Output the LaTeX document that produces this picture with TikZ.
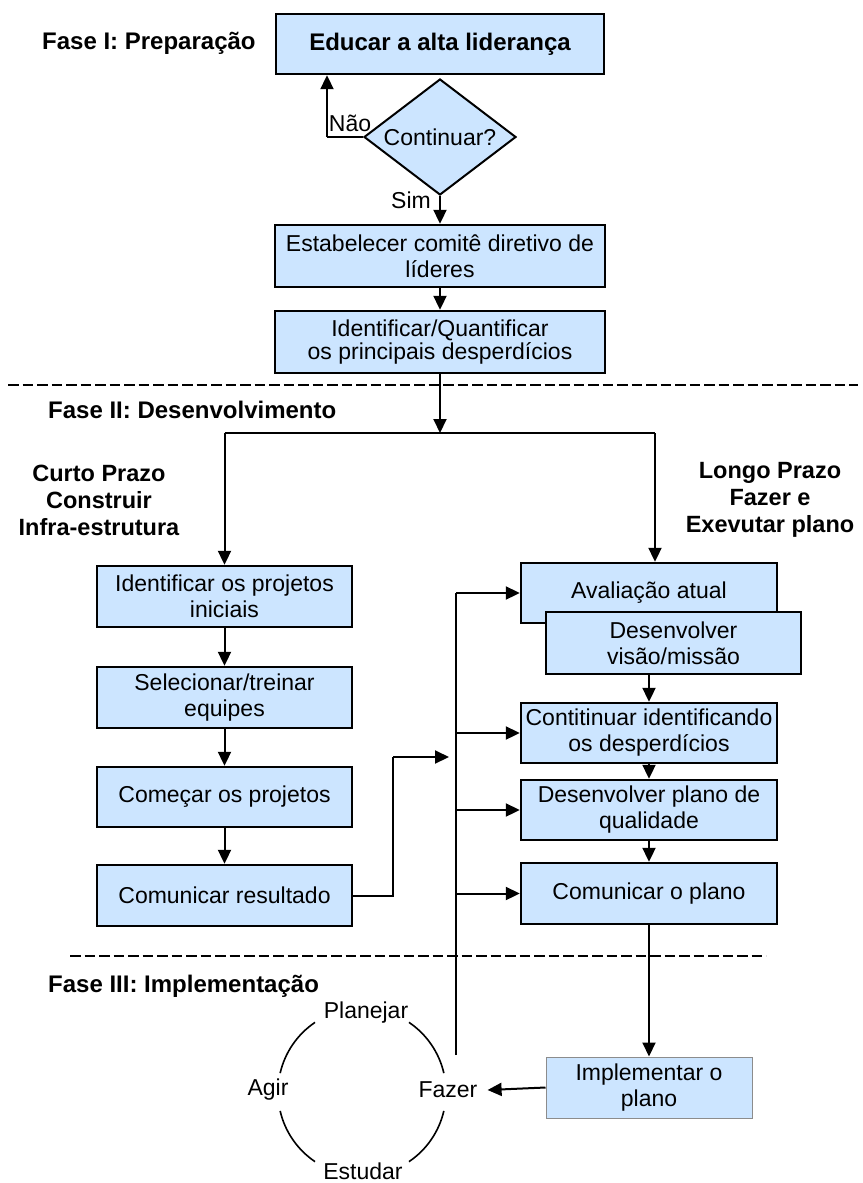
\documentclass[tikz,border=0pt]{standalone}
\usepackage{fontspec}
\setmainfont{Liberation Sans}
\usetikzlibrary{arrows.meta,shapes.geometric}
\definecolor{boxblue}{RGB}{204,229,255}
\begin{document}
\begin{tikzpicture}[x=1pt,y=1pt,
  box/.style={draw=black, line width=2.4pt, fill=boxblue, inner sep=0pt, align=center,
    font=\fontsize{23}{26}\selectfont},
  lbox/.style={box, minimum width=255pt},
  rbox/.style={box, minimum width=256pt},
  arr/.style={line width=2pt, -{Triangle[length=14pt,width=13pt]}},
  ln/.style={line width=2pt},
  thin/.style={line width=1.3pt},
  cyc/.style={line width=1.6pt},
  phase/.style={font=\bfseries\fontsize{24}{27}\selectfont, anchor=west, inner sep=0pt},
  head/.style={font=\bfseries\fontsize{23.5}{27}\selectfont, align=center, inner sep=0pt},
  lbl/.style={font=\fontsize{23}{26}\selectfont, inner sep=0pt},
  sep/.style={line width=2.4pt, dash pattern=on 10.5pt off 4pt}
]
\useasboundingbox (0,0) rectangle (862,-1183);

% ---------- Fase I ----------
\node[phase] (f1) at (42,-43) {Fase I: Preparação};
\node[box, minimum width=328pt, minimum height=60pt, font=\bfseries\fontsize{24}{27}\selectfont]
  (b1) at (440,-44) {Educar a alta liderança};
\node[diamond, draw=black, line width=2pt, fill=boxblue, aspect=1.31, inner sep=0pt,
  minimum width=152pt, minimum height=116pt, font=\fontsize{23}{26}\selectfont]
  (d) at (440,-137) {Continuar?};
\node[lbl] (nao) at (350,-123) {Não};
\node[lbl] (sim) at (411,-200) {Sim};
\node[box, minimum width=330pt, minimum height=62pt] (b2) at (440,-256)
  {Estabelecer comitê diretivo de\\líderes};
\node[box, minimum width=330pt, minimum height=62pt, font=\fontsize{23}{20}\selectfont]
  (b3) at (440,-342) {Identificar/Quantificar\\os principais desperdícios};

\coordinate (naoc) at (327,-137);
\draw[ln] (d.west) -- (naoc);
\draw[arr] (naoc) -- (naoc |- b1.south);
\draw[arr] (d.south) -- (b2.north);
\draw[arr] (b2) -- (b3);

% ---------- separator 1 ----------
\coordinate (s1a) at (8,-385);
\coordinate (s1b) at (858,-385);
\draw[sep] (s1a) -- (s1b);

% ---------- Fase II ----------
\node[phase] (f2) at (48,-410) {Fase II: Desenvolvimento};
\node[head] (cp) at (99,-500) {Curto Prazo\\Construir\\Infra-estrutura};
\node[head] (lp) at (770,-500) {Longo Prazo\\Fazer e\\Exevutar plano};

\node[lbox, minimum height=61pt] (L1) at (224.5,-596.5) {Identificar os projetos\\iniciais};
\node[lbox, minimum height=61pt] (L2) at (224.5,-697.5) {Selecionar/treinar\\equipes};
\node[lbox, minimum height=60pt] (L3) at (224.5,-797) {Começar os projetos};
\node[lbox, minimum height=61pt] (L4) at (224.5,-895.5) {Comunicar resultado};

\node[rbox, minimum height=60pt] (R1) at (649,-593) {Avaliação atual};
\node[box, minimum width=255pt, minimum height=62pt] (R2) at (673.5,-643) {Desenvolver\\visão/missão};
\node[rbox, minimum height=60pt] (R3) at (649,-733) {Contitinuar identificando\\os desperdícios};
\node[rbox, minimum height=60pt] (R4) at (649,-810) {Desenvolver plano de\\qualidade};
\node[rbox, minimum height=61pt] (R5) at (649,-893.5) {Comunicar o plano};

\coordinate (split) at (440,-433);
\coordinate (splitL) at (224.5,-433);
\coordinate (splitR) at (655,-433);
\draw[arr] (b3) -- (split);
\draw[ln] (splitL) -- (splitR);
\draw[arr] (splitL) -- (L1.north);
\draw[arr] (splitR) -- (splitR |- R1.north);

\draw[arr] (L1) -- (L2);
\draw[arr] (L2) -- (L3);
\draw[arr] (L3) -- (L4);

\draw[arr] (R3.north |- R2.south) -- (R3.north);
\draw[arr] (R3) -- (R4);
\draw[arr] (R4) -- (R5);

% feedback line
\coordinate (fbTop) at (456,-593);
\coordinate (fbBot) at (456,-1055);
\draw[thin] (fbBot) -- (fbTop);
\draw[arr] (fbTop) -- (R1.west);
\draw[arr] (fbTop |- R3.west) -- (R3.west);
\draw[arr] (fbTop |- R4.west) -- (R4.west);
\draw[arr] (fbTop |- R5.west) -- (R5.west);

\coordinate (crUp) at (393,-757);
\coordinate (crEnd) at (449,-757);
\draw[ln] (L4.east) -| (crUp);
\draw[arr] (crUp) -- (crEnd);

% ---------- separator 2 ----------
\coordinate (s2a) at (70,-956);
\coordinate (s2b) at (766,-956);
\draw[sep] (s2a) -- (s2b);

% ---------- Fase III ----------
\node[phase] (f3) at (48,-986) {Fase III: Implementação};
\node[box, draw=black!45, line width=1pt, minimum width=206pt, minimum height=61pt]
  (IM) at (649,-1087.5) {Implementar o\\plano};
\draw[arr] (R5) -- (IM);

\coordinate (cc) at (362,-1092);
\node[lbl] (pl) at (366,-1013) {Planejar};
\node[lbl] (ag) at (268,-1090) {Agir};
\node[lbl] (fz) at (448,-1090) {Fazer};
\node[lbl] (es) at (363,-1171) {Estudar};
\draw[cyc] ([shift={(13:84)}]cc) arc[start angle=13, end angle=56, radius=84];
\draw[cyc] ([shift={(124:84)}]cc) arc[start angle=124, end angle=167, radius=84];
\draw[cyc] ([shift={(193:84)}]cc) arc[start angle=193, end angle=236, radius=84];
\draw[cyc] ([shift={(304:84)}]cc) arc[start angle=304, end angle=347, radius=84];

\draw[arr] (IM.west) -- ([xshift=10pt]fz.east);
\end{tikzpicture}
\end{document}
